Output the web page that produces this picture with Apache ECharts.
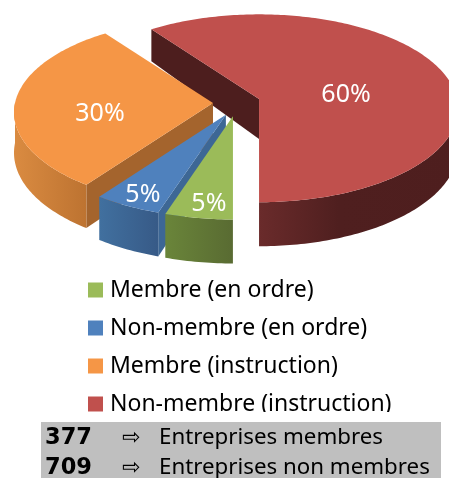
<!DOCTYPE html>
<html>
<head>
<meta charset="utf-8">
<style>
  html, body { margin: 0; padding: 0; background: #fff; }
  #chart { width: 449px; height: 478px; overflow: hidden; }
</style>
<script src="https://cdn.jsdelivr.net/npm/echarts@6/dist/echarts.min.js"></script>
</head>
<body>
<div id="chart"></div>
<script>
const categories = ['Membre (en ordre)', 'Non-membre (en ordre)', 'Membre (instruction)', 'Non-membre (instruction)']
const values = [5, 5, 30, 60]
const tableCounts = ['377', '709']
const tableLabels = ['Entreprises membres', 'Entreprises non membres']

const topColors = ['#9BBB59', '#4F81BD', '#F59646', '#C0504D']
const faceColors = ['#5F7436', '#3D6795', '#A4642D', '#4D1E1E']
const wallStops = [
  [[0, '#6A853A'], [1, '#596B32']],
  [[0, '#41709F'], [1, '#375A87']],
  [[0, '#DA8B41'], [1, '#BD7331']],
  [[0, '#6A2B2B'], [0.4, '#4F1F1F'], [1, '#4E1E1E']]
]
// label shift from the apex of each slice, px
const labelShift = [[-24, 88], [-83, 80], [-113, 11], [87, -4]]

// pie projection
const center = [236.6, 103]
const rx = 198
const ry = 93
const persp = 0.1
const explodeX = 23.6
const explodeY = 13.3
const startAngle = 180
const total = values.reduce((a, b) => a + b, 0)
const rad = (d) => (d * Math.PI) / 180

function project(deg, cx, cy) {
  const X = Math.sin(rad(deg))
  const Y = -Math.cos(rad(deg))
  const f = 1 / (1 - persp * Y)
  return [cx + rx * X * f, cy + ry * Y * f]
}

function depth(deg) {
  const Y = -Math.cos(rad(deg))
  return Y >= 0 ? 40 + 4 * Y : 40 + 10 * Y
}

function sliceRange(i) {
  const before = values.slice(0, i).reduce((a, b) => a + b, 0)
  return [startAngle + (before / total) * 360, startAngle + ((before + values[i]) / total) * 360]
}

function poly(points, fill) {
  return { type: 'polygon', shape: { points }, style: { fill, stroke: null } }
}

function renderSlice(i) {
  const [a0, a1] = sliceRange(i)
  const mid = (a0 + a1) / 2
  const apex = [
    center[0] + explodeX * Math.sin(rad(mid)),
    center[1] - explodeY * Math.cos(rad(mid))
  ]
  const children = []

  // cut faces
  const cut = (deg) => {
    const rim = project(deg, apex[0], apex[1])
    const d = depth(deg)
    return poly([apex, rim, [rim[0], rim[1] + d], [apex[0], apex[1] + 40]], faceColors[i])
  }
  if (Math.sin(rad(a0)) < -1e-6) children.push(cut(a0))
  if (Math.sin(rad(a1)) > 1e-6) children.push(cut(a1))

  // outer wall, front half only
  const upper = []
  const lower = []
  for (let d = a0; d <= a1 + 0.001; d += 1) {
    if (-Math.cos(rad(d)) < 0) continue
    const p = project(d, apex[0], apex[1])
    upper.push(p)
    lower.unshift([p[0], p[1] + depth(d)])
  }
  if (upper.length > 1) {
    children.push(poly(upper.concat(lower), new echarts.graphic.LinearGradient(0, 0, 1, 0,
      wallStops[i].map(([offset, color]) => ({ offset, color })))))
  }

  // top
  const top = [apex]
  for (let d = a0; d <= a1 + 0.001; d += 1) top.push(project(d, apex[0], apex[1]))
  children.push(poly(top, topColors[i]))

  children.push({
    type: 'text',
    style: {
      x: apex[0] + labelShift[i][0],
      y: apex[1] + labelShift[i][1],
      text: values[i] + '%',
      fill: '#fff',
      font: '25px "Noto Sans"',
      align: 'center',
      verticalAlign: 'middle'
    }
  })
  return { type: 'group', children }
}

// red at the back, green in front
const series = [3, 2, 1, 0].map((i) => ({
  name: categories[i],
  type: 'custom',
  coordinateSystem: 'none',
  silent: true,
  animation: false,
  clip: false,
  itemStyle: { color: topColors[i] },
  data: [[values[i]]],
  renderItem: () => renderSlice(i)
}))

const tableText = []
tableCounts.forEach((count, i) => {
  const y = 438 + i * 30
  tableText.push(
    { type: 'text', z: 102, style: { x: 45, y, text: count, font: 'bold 22.5px "DejaVu Sans"', fill: '#000', verticalAlign: 'middle' } },
    { type: 'text', z: 102, style: { x: 122, y, text: '⇨', font: '22px "DejaVu Sans"', fill: '#000', verticalAlign: 'middle' } },
    { type: 'text', z: 102, style: { x: 159, y, text: tableLabels[i], font: '22.3px "Noto Sans"', fill: '#000', verticalAlign: 'middle' } }
  )
})

const chart = echarts.init(document.getElementById('chart'))
chart.setOption({
  animation: false,
  backgroundColor: '#fff',
  legend: {
    data: categories,
    orient: 'vertical',
    left: 83,
    top: 270,
    icon: 'rect',
    itemWidth: 15,
    itemHeight: 15,
    itemGap: 8,
    selectedMode: false,
    textStyle: { fontFamily: 'Noto Sans', fontSize: 23, color: '#000', padding: [0, 0, 0, 2], lineHeight: 30 }
  },
  graphic: [
    { type: 'rect', z: 100, shape: { x: 0, y: 412, width: 449, height: 10 }, style: { fill: '#fff' } },
    { type: 'rect', z: 101, shape: { x: 41, y: 422, width: 400, height: 56 }, style: { fill: '#BFBFBF' } }
  ].concat(tableText),
  series
})
</script>
</body>
</html>
